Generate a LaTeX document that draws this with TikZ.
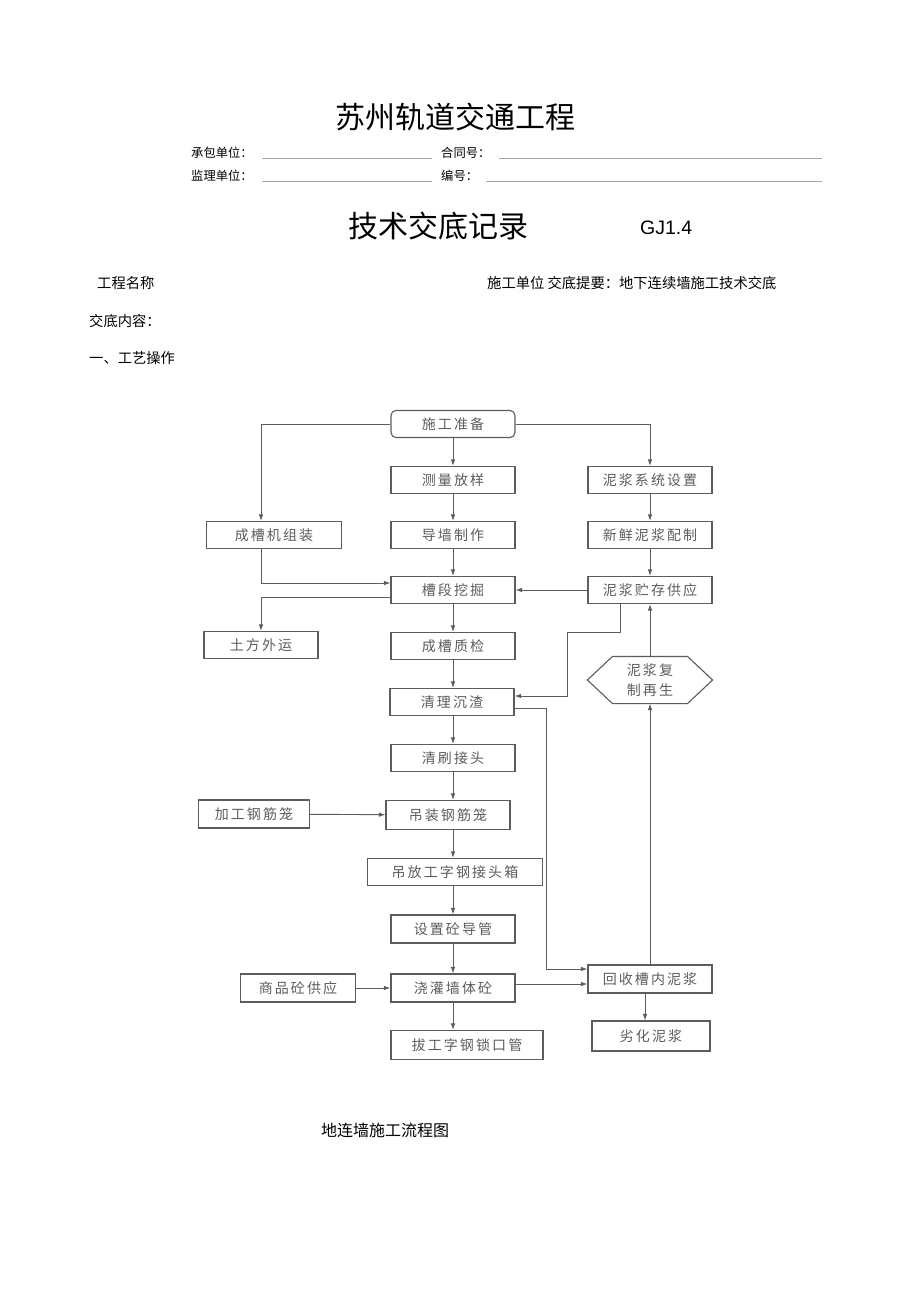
\documentclass[tikz,border=0pt]{standalone}
\usepackage{fontspec}
\setmainfont{Liberation Sans}
\newfontfamily\cjk{Noto Sans CJK SC}
\newfontfamily\boxcjk[LetterSpace=15]{Noto Sans CJK SC}
\usetikzlibrary{arrows.meta,positioning,shapes}
\definecolor{linegray}{rgb}{0.36,0.36,0.36}
\definecolor{textgray}{rgb}{0.36,0.36,0.36}
\tikzset{
	stepbox/.style={
		rectangle,
		draw=linegray,
		line width=1.1pt,
		minimum width=124pt,
		minimum height=27pt,
		inner sep=0pt,
		text=textgray,
		font=\boxcjk\fontsize{14}{20}\selectfont,
		align=center
	},
	startbox/.style={
		stepbox,
		rounded corners=5pt
	},
	boxline/.style={
		draw=linegray,
		line width=1.1pt
	},
	arrow/.style={
		draw=linegray,
		line width=0.9pt,
		->,
		>={Latex[length=6.5pt,width=4.5pt]}
	},
	rule/.style={
		draw=gray!70,
		line width=0.7pt
	},
	header/.style={
		anchor=west,
		inner sep=0pt,
		font=\cjk\fontsize{12.3}{14}\selectfont
	},
	subhead/.style={
		anchor=west,
		inner sep=0pt,
		font=\cjk\fontsize{14.3}{16}\selectfont
	},
}

\begin{document}
\begin{tikzpicture}[x=1pt,y=-1pt,on grid,node distance=56pt]
	\useasboundingbox (0,0) rectangle (920,1303);
	% page header
	\node[inner sep=0pt,font=\cjk\fontsize{30}{34}\selectfont] (proj) at (455,117) {苏州轨道交通工程};
	\node[header] (contractor) at (191,153) {承包单位：};
	\node[header] (contract) at (441,153) {合同号：};
	\node[header] (supervisor) at (191,176) {监理单位：};
	\node[header] (number) at (441,176) {编号：};
	\draw[rule] (262,158) -- (432,158);
	\draw[rule] (499,158) -- (822,158);
	\draw[rule] (262,181) -- (432,181);
	\draw[rule] (486,181) -- (822,181);
	\node[inner sep=0pt,font=\cjk\fontsize{30}{34}\selectfont] (record) at (438,226) {技术交底记录};
	\node[anchor=west,inner sep=0pt,font=\fontsize{19.5}{22}\selectfont] (code) at (640,228) {GJ1.4};
	\node[subhead] (name) at (97,283) {工程名称};
	\node[subhead] (unit) at (487,283) {施工单位 交底提要：地下连续墙施工技术交底};
	\node[subhead] (content) at (89,321) {交底内容：};
	\node[subhead] (craft) at (89,358) {一、工艺操作};

	% main column
	\node[startbox] (prep) at (453,424) {施工准备};
	\node[stepbox] (survey) [below=of prep] {测量放样};
	\node[stepbox] (guide) [below=55pt of survey] {导墙制作};
	\node[stepbox] (dig) [below=55pt of guide] {槽段挖掘};
	\node[stepbox] (check) [below=of dig] {成槽质检};
	\node[stepbox] (clean) [below=of check,xshift=-1pt] {清理沉渣};
	\node[stepbox] (brush) [below=of clean,xshift=1pt] {清刷接头};
	\node[stepbox,minimum height=29pt] (lift) [below=57pt of brush,xshift=-5pt] {吊装钢筋笼};
	\node[stepbox,minimum width=175pt] (box) at (455,872) {吊放工字钢接头箱};
	\node[stepbox,minimum height=28pt] (pipe) at (453,929) {设置砼导管};
	\node[stepbox,minimum height=28pt] (pour) at (453,988) {浇灌墙体砼};
	\node[stepbox,minimum width=152pt,minimum height=29pt] (pull) at (467,1045) {拔工字钢锁口管};

	% slurry column
	\node[stepbox] (slurry) at (650,480) {泥浆系统设置};
	\node[stepbox] (fresh) [below=55pt of slurry] {新鲜泥浆配制};
	\node[stepbox] (store) [below=55pt of fresh] {泥浆贮存供应};
	\node[stepbox,draw=none,minimum height=46pt] (regen) at (650,680) {泥浆复\\制再生};
	\draw[boxline] (regen.west) -- ([xshift=25pt]regen.north west) -- ([xshift=-25pt]regen.north east)
		-- (regen.east) -- ([xshift=-25pt]regen.south east) -- ([xshift=25pt]regen.south west) -- cycle;
	\node[stepbox,minimum height=28pt] (recycle) at (650,979) {回收槽内泥浆};
	\node[stepbox,minimum width=118pt,minimum height=30pt] (waste) at (651,1036) {劣化泥浆};

	% side boxes
	\node[stepbox,minimum width=135pt] (assemble) at (274,535) {成槽机组装};
	\node[stepbox,minimum width=114pt] (soil) at (261,645) {土方外运};
	\node[stepbox,minimum width=111pt,minimum height=28pt] (rebar) at (254,814) {加工钢筋笼};
	\node[stepbox,minimum width=115pt,minimum height=28pt] (concrete) at (298,988) {商品砼供应};

	\coordinate (lcol) at (261,0);
	\coordinate (bend) at (567,632);
	\coordinate (back) at (546,969);

	% connectors
	\draw[arrow] (prep) -- (survey);
	\draw[arrow] (survey) -- (guide);
	\draw[arrow] (guide) -- (dig);
	\draw[arrow] (dig) -- (check);
	\draw[arrow] (check.south) -- (clean.north -| check);
	\draw[arrow] (clean.south -| check) -- (brush.north);
	\draw[arrow] (brush.south) -- (lift.north -| brush);
	\draw[arrow] (lift.south -| brush) -- (box.north -| brush);
	\draw[arrow] (box.south -| brush) -- (pipe.north);
	\draw[arrow] (pipe) -- (pour);
	\draw[arrow] (pour.south) -- (pull.north -| pour);
	\draw[arrow] (prep.west) -| (assemble.north -| lcol);
	\draw[arrow] (prep.east) -| (slurry.north);
	\draw[arrow] (slurry) -- (fresh);
	\draw[arrow] (fresh) -- (store);
	\draw[arrow] (assemble.south -| lcol) |- ([yshift=7pt]dig.west);
	\draw[arrow] ([yshift=-7pt]dig.west) -| (soil.north);
	\draw[arrow] (store) -- (dig);
	\draw[arrow] ([xshift=-30pt]store.south) |- (bend) |- ([yshift=6pt]clean.east);
	\draw[arrow] (regen.north) -- (store.south);
	\draw[arrow] (recycle.north) -- (regen.south);
	\draw[arrow] ([yshift=-6pt]clean.east) -| (back) -- (back -| recycle.west);
	\draw[arrow] ([yshift=4pt]pour.east) -- ([yshift=4pt]pour.east -| recycle.west);
	\draw[arrow] ([xshift=-5pt]recycle.south) -- ([xshift=-5pt]recycle.south |- waste.north);
	\draw[arrow] (rebar) -- (lift);
	\draw[arrow] (concrete) -- (pour);

	% caption
	\node[anchor=west,inner sep=0pt,font=\cjk\fontsize{16}{18}\selectfont] (caption) at (321,1130) {地连墙施工流程图};
\end{tikzpicture}
\end{document}
